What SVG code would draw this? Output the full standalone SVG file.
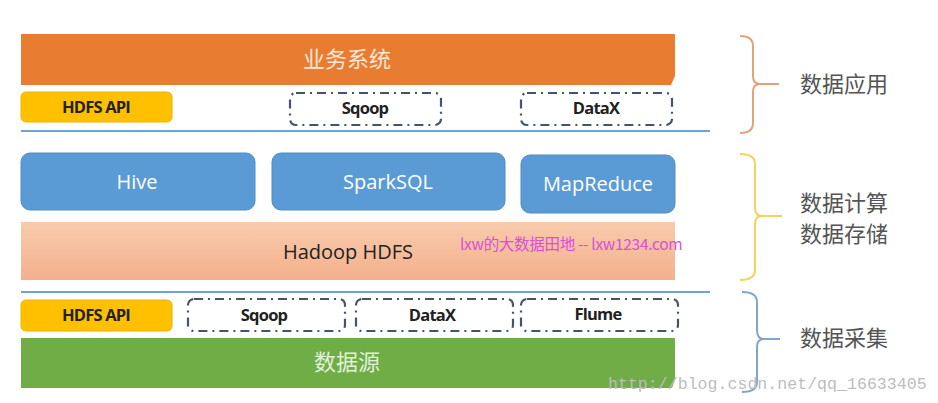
<svg xmlns="http://www.w3.org/2000/svg" width="938" height="403" viewBox="0 0 938 403">
<style>
.cn{font-family:"Noto Sans CJK SC","Noto Sans",sans-serif}
.lat{font-family:"Open Sans","Noto Sans",sans-serif}
.api{fill:#FFC000;stroke:#F2B100;stroke-width:1}
.apit{font-family:"Open Sans","Noto Sans",sans-serif;font-weight:bold;font-size:16.5px;fill:#222;text-anchor:middle;letter-spacing:-0.8px}
.dash{fill:#fff;stroke:#44546A;stroke-width:2.2;stroke-dasharray:9 5 2 5}
.blue{fill:#5B9BD5;stroke:#4F8DC6;stroke-width:1}
.bt{font-family:"Open Sans","Noto Sans",sans-serif;font-size:20px;fill:#fff;text-anchor:middle}
.lab{font-family:"Noto Sans CJK SC",sans-serif;font-size:22px;fill:#555}
.sep{stroke:#6FA3D3;stroke-width:2}
.brace{fill:none;stroke-width:2}
</style>
<defs>
<linearGradient id="hd" x1="0" y1="0" x2="0" y2="1">
<stop offset="0" stop-color="#F8CBAD"/>
<stop offset="1" stop-color="#F4B08C"/>
</linearGradient>
</defs>
<rect width="938" height="403" fill="#fff"/>
<g id="biz">
<path d="M21 34 H675 V76 L671 85 H21 Z" fill="#E87D31"/>
<text x="347" y="67" class="cn" font-size="22" fill="#FBE5D6" text-anchor="middle">业务系统</text>
</g>
<g id="api-top">
<rect x="21" y="92" width="151" height="30" rx="5" class="api"/>
<text x="96" y="113" class="apit">HDFS API</text>
</g>
<g id="sqoop-top">
<rect x="290" y="93" width="151" height="32" rx="6" class="dash"/>
<text x="365" y="114" class="apit">Sqoop</text>
</g>
<g id="datax-top">
<rect x="521" y="93" width="151" height="32" rx="6" class="dash"/>
<text x="596" y="114" class="apit">DataX</text>
</g>
<line x1="21" y1="131" x2="710" y2="131" class="sep"/>
<g id="hive">
<rect x="21" y="153" width="234" height="57" rx="9" class="blue"/>
<text x="137" y="189" class="bt">Hive</text>
</g>
<g id="sparksql">
<rect x="272" y="153" width="233" height="57" rx="9" class="blue"/>
<text x="388" y="189" class="bt">SparkSQL</text>
</g>
<g id="mapreduce">
<rect x="521" y="155" width="154" height="58" rx="9" class="blue"/>
<text x="598" y="191" class="bt">MapReduce</text>
</g>
<g id="hdfs">
<rect x="21" y="222" width="654" height="58" fill="url(#hd)"/>
<text x="348" y="259" class="lat" font-size="20" fill="#222" text-anchor="middle">Hadoop HDFS</text>
</g>
<text x="460" y="250" class="cn" font-size="15.5" fill="#D94FD9" letter-spacing="-0.3">lxw的大数据田地 -- lxw1234.com</text>
<line x1="21" y1="292" x2="710" y2="292" class="sep"/>
<g id="api-bottom">
<rect x="21" y="300" width="151" height="31" rx="5" class="api"/>
<text x="96" y="321" class="apit">HDFS API</text>
</g>
<g id="sqoop-bottom">
<rect x="188" y="299" width="157" height="32" rx="6" class="dash"/>
<text x="264" y="321" class="apit">Sqoop</text>
</g>
<g id="datax-bottom">
<rect x="356" y="299" width="157" height="32" rx="6" class="dash"/>
<text x="432" y="321" class="apit">DataX</text>
</g>
<g id="flume-bottom">
<rect x="521" y="299" width="157" height="32" rx="6" class="dash"/>
<text x="598" y="320" class="apit">Flume</text>
</g>
<g id="source">
<path d="M21 338 H675 V380 L672 388 H21 Z" fill="#70AD47"/>
<text x="347" y="370" class="cn" font-size="22" fill="#E2F0D9" text-anchor="middle">数据源</text>
</g>
<g id="connectors">
<path d="M740 36 Q753 36 753 46 V76 Q753 84 760 84 H779 M760 84 Q753 84 753 92 V123 Q753 133 740 133" class="brace" stroke="#E3A27A"/>
<path d="M740 154 Q755 154 755 164 V208 Q755 216 762 216 H782 M762 216 Q755 216 755 224 V270 Q755 280 740 280" class="brace" stroke="#F2D35C"/>
<path d="M742 292 Q757 292 757 302 V330 Q757 339 764 339 H780 M764 339 Q757 339 757 347 V382 Q757 392 742 392" class="brace" stroke="#7FA7CC"/>
</g>
<g id="labels">
<text x="800" y="92" class="lab">数据应用</text>
<text x="800" y="211" class="lab">数据计算</text>
<text x="800" y="242" class="lab">数据存储</text>
<text x="800" y="346" class="lab">数据采集</text>
</g>
<text x="608" y="389" font-family="Liberation Mono,monospace" font-size="16.6" fill="#BDBDBD">http://blog.csdn.net/qq_16633405</text>
</svg>
